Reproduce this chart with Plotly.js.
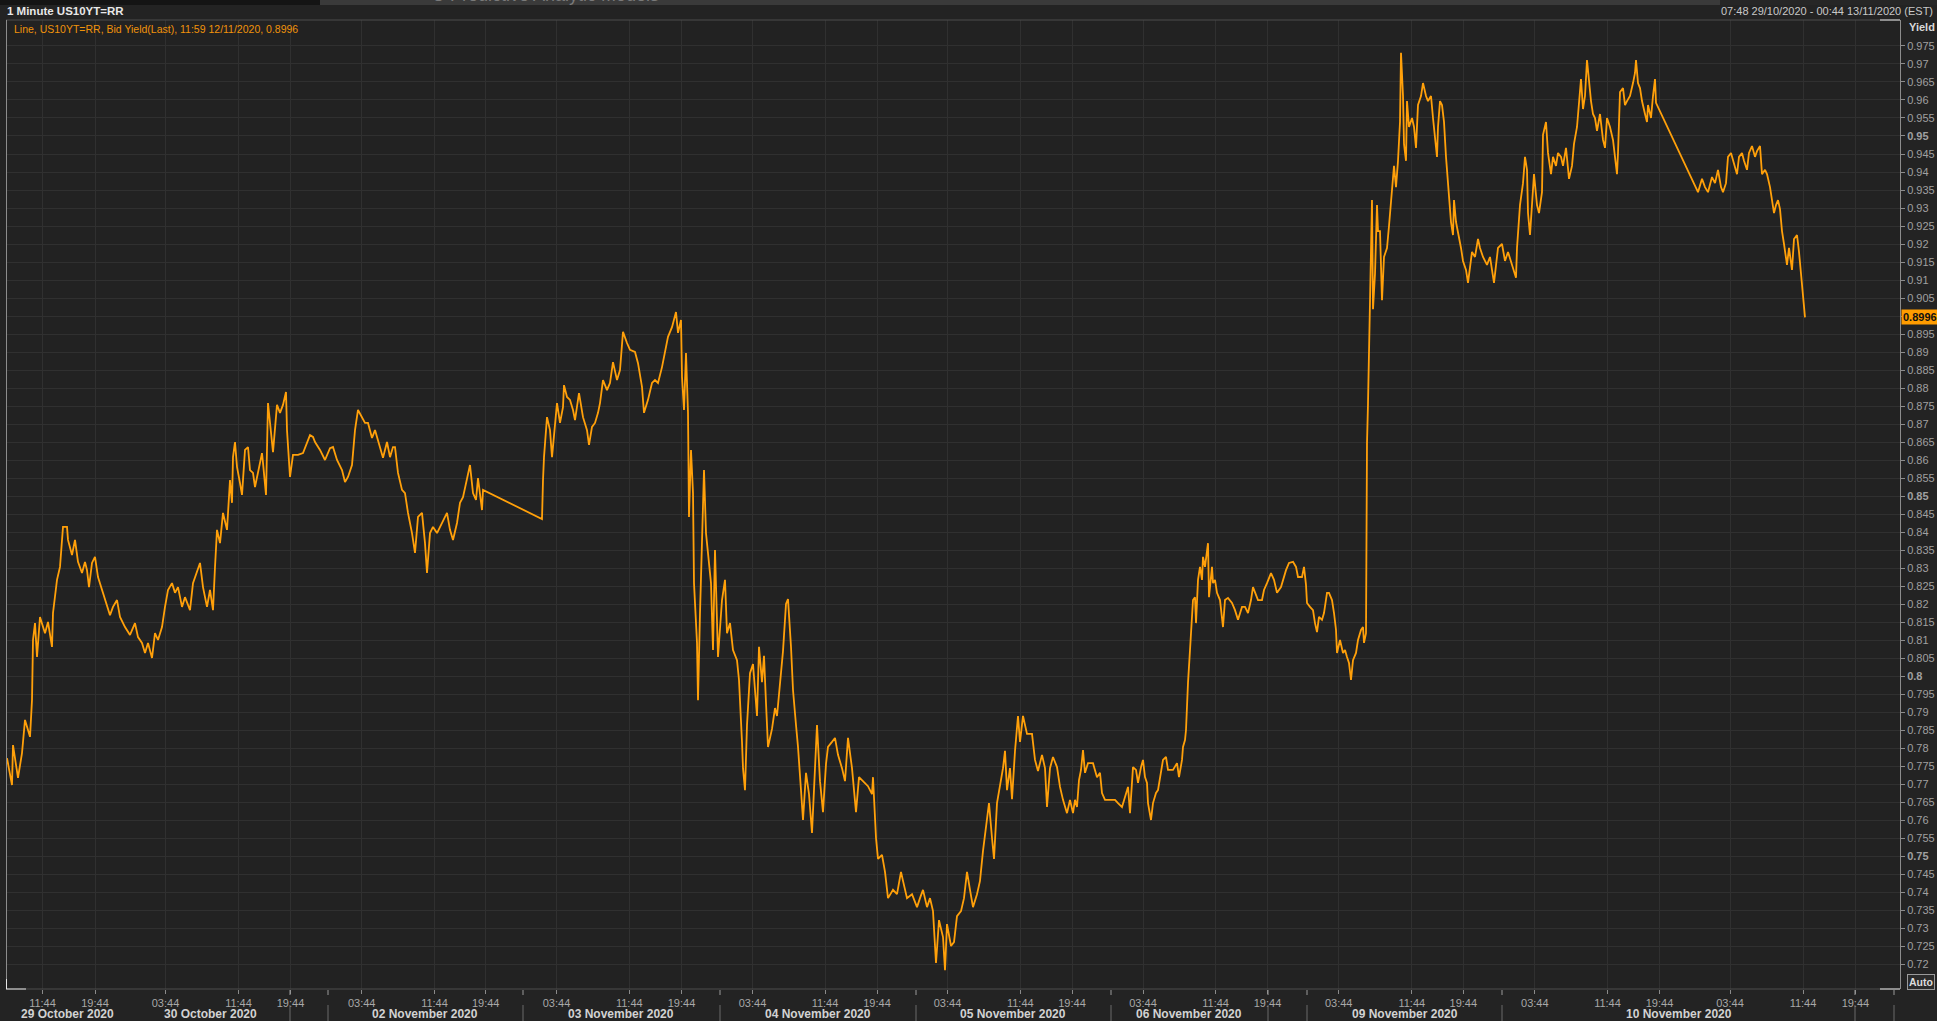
<!DOCTYPE html>
<html><head><meta charset="utf-8">
<script src="https://cdn.plot.ly/plotly-3.0.1.min.js"></script>
<style>html,body{margin:0;padding:0;background:#232323;overflow:hidden}#chart{width:1937px;height:1021px}</style>
</head><body><div id="chart"></div>
<script>
// ---- DATA (x = bar position on the compressed session axis, y = US10YT=RR bid yield) ----
const barIdx = [
7,12,13,18,22,25,30,32,33,35,37,40,45,48,52,53,57,60,63,67,
68,72,75,78,82,85,87,89,92,95,98,102,105,110,113,117,120,125,130,135,
138,142,145,148,152,155,158,162,165,168,172,175,178,182,185,190,193,197,200,203,
207,210,213,215,217,220,223,227,230,232,233,235,237,240,242,245,248,250,253,255,
258,262,263,266,268,270,273,277,280,283,286,287,290,293,298,303,307,310,313,315,
320,325,330,333,337,342,345,348,352,355,358,362,365,368,372,375,380,383,387,390,
393,395,398,402,405,408,412,415,418,422,425,427,430,433,437,442,447,450,453,457,
460,463,467,470,473,476,478,482,483,542,543,544,547,550,552,555,557,560,563,564,
567,570,573,575,579,583,587,589,592,595,598,600,603,607,610,613,617,620,623,627,
630,635,638,642,644,648,652,655,658,662,665,668,672,676,678,681,682,684,686,688,
689,691,693,694,697,698,700,702,704,706,708,711,713,715,718,722,725,727,730,733,
737,739,742,743,745,747,750,753,757,759,762,764,766,768,772,775,777,780,783,786,
788,791,793,796,798,801,803,806,809,812,815,817,820,823,826,828,832,835,838,842,
845,848,852,856,859,863,868,872,873,876,878,882,885,888,893,897,901,903,907,912,
917,920,923,927,930,933,936,939,943,945,947,951,954,957,961,964,967,970,973,977,
980,983,987,989,992,994,997,1000,1003,1005,1007,1010,1012,1015,1018,1020,1023,1027,1032,1035,
1038,1042,1045,1047,1050,1053,1057,1060,1063,1067,1070,1073,1075,1077,1079,1081,1083,1085,1088,1093,
1097,1100,1102,1105,1110,1115,1118,1122,1125,1128,1130,1133,1136,1138,1141,1143,1145,1147,1148,1151,
1153,1156,1158,1161,1163,1166,1168,1173,1177,1179,1182,1183,1185,1186,1187,1188,1190,1192,1193,1195,
1196,1198,1200,1202,1203,1205,1207,1208,1209,1212,1213,1215,1217,1220,1223,1225,1228,1232,1235,1238,
1242,1245,1248,1251,1253,1255,1258,1262,1264,1267,1271,1274,1277,1281,1283,1286,1289,1293,1296,1298,
1302,1304,1306,1307,1310,1313,1315,1317,1319,1322,1324,1327,1329,1332,1334,1336,1337,1340,1343,1345,
1347,1349,1351,1353,1356,1358,1361,1363,1364,1366,1366.5,1367,1368,1369,1371,1372,1373,1375,1377,1378,
1380,1382,1384,1387,1389,1392,1394,1396,1398,1400,1401,1403,1404,1406,1407,1409,1412,1414,1416,1418,
1421,1423,1426,1428,1431,1433,1435,1437,1438,1440,1442,1444,1446,1448,1451,1453,1454,1456,1458,1461,
1463,1466,1468,1472,1475,1478,1480,1483,1487,1490,1494,1498,1502,1505,1508,1512,1516,1517,1520,1523,
1525,1527,1528,1530,1532,1534,1537,1539,1542,1543,1546,1548,1551,1553,1556,1558,1561,1563,1566,1569,
1572,1574,1577,1579,1581,1583,1585,1587,1589,1591,1593,1595,1597,1600,1603,1605,1607,1610,1613,1615,
1617,1618,1620,1623,1625,1627,1630,1633,1635,1636,1638,1640,1642,1645,1647,1648,1651,1653,1655,1656,
1698,1702,1705,1708,1712,1715,1718,1721,1723,1726,1728,1731,1733,1737,1739,1742,1744,1747,1749,1752,
1755,1757,1760,1762,1765,1767,1770,1772,1774,1776,1778,1780,1782,1784,1787,1789,1792,1794,1797,1799,
1801,1803,1805
];
const bidYield = [
0.7772,0.7697,0.7808,0.7717,0.7786,0.7878,0.7831,0.7933,0.8100,0.8147,0.8053,0.8164,0.8119,0.8150,0.8081,0.8175,0.8267,0.8303,0.8414,0.8414,
0.8378,0.8336,0.8378,0.8317,0.8286,0.8317,0.8294,0.8247,0.8314,0.8331,0.8275,0.8239,0.8211,0.8169,0.8192,0.8211,0.8164,0.8136,0.8114,0.8147,
0.8108,0.8092,0.8064,0.8092,0.8050,0.8119,0.8100,0.8136,0.8192,0.8239,0.8258,0.8231,0.8247,0.8192,0.8219,0.8183,0.8258,0.8294,0.8314,0.8247,
0.8192,0.8239,0.8183,0.8303,0.8406,0.8369,0.8453,0.8406,0.8544,0.8481,0.8608,0.8650,0.8581,0.8536,0.8503,0.8628,0.8636,0.8572,0.8564,0.8525,
0.8564,0.8619,0.8592,0.8503,0.8758,0.8703,0.8622,0.8753,0.8731,0.8753,0.8789,0.8683,0.8553,0.8614,0.8614,0.8619,0.8650,0.8669,0.8664,0.8650,
0.8628,0.8600,0.8633,0.8636,0.8600,0.8572,0.8539,0.8553,0.8586,0.8683,0.8739,0.8719,0.8703,0.8703,0.8661,0.8683,0.8633,0.8606,0.8650,0.8608,
0.8636,0.8636,0.8564,0.8517,0.8508,0.8453,0.8397,0.8342,0.8442,0.8453,0.8369,0.8286,0.8397,0.8414,0.8397,0.8425,0.8453,0.8406,0.8378,0.8425,
0.8481,0.8497,0.8544,0.8586,0.8508,0.8489,0.8550,0.8461,0.8517,0.8436,0.8544,0.8608,0.8719,0.8683,0.8608,0.8692,0.8758,0.8703,0.8747,0.8808,
0.8775,0.8767,0.8739,0.8711,0.8786,0.8719,0.8683,0.8642,0.8692,0.8703,0.8731,0.8758,0.8822,0.8794,0.8814,0.8872,0.8822,0.8850,0.8956,0.8925,
0.8906,0.8900,0.8869,0.8803,0.8731,0.8767,0.8814,0.8822,0.8814,0.8858,0.8906,0.8942,0.8969,0.9011,0.8953,0.8989,0.8831,0.8739,0.8897,0.8731,
0.8442,0.8628,0.8508,0.8258,0.8092,0.7933,0.8175,0.8350,0.8572,0.8397,0.8342,0.8258,0.8072,0.8350,0.8053,0.8211,0.8267,0.8119,0.8147,0.8072,
0.8044,0.7989,0.7817,0.7744,0.7683,0.7864,0.8008,0.8033,0.7889,0.8081,0.7983,0.8056,0.7925,0.7803,0.7853,0.7911,0.7889,0.7983,0.8069,0.8200,
0.8214,0.8081,0.7961,0.7864,0.7803,0.7683,0.7600,0.7731,0.7672,0.7564,0.7767,0.7864,0.7708,0.7622,0.7756,0.7803,0.7817,0.7828,0.7781,0.7744,
0.7708,0.7828,0.7744,0.7622,0.7719,0.7708,0.7694,0.7672,0.7719,0.7550,0.7492,0.7503,0.7456,0.7383,0.7406,0.7394,0.7456,0.7431,0.7383,0.7394,
0.7358,0.7383,0.7406,0.7358,0.7383,0.7347,0.7203,0.7322,0.7275,0.7183,0.7311,0.7250,0.7261,0.7333,0.7347,0.7383,0.7456,0.7406,0.7358,0.7394,
0.7431,0.7514,0.7600,0.7647,0.7550,0.7492,0.7647,0.7694,0.7744,0.7792,0.7683,0.7744,0.7658,0.7792,0.7889,0.7817,0.7889,0.7839,0.7839,0.7767,
0.7736,0.7781,0.7744,0.7636,0.7744,0.7775,0.7747,0.7692,0.7656,0.7619,0.7656,0.7619,0.7656,0.7636,0.7711,0.7739,0.7794,0.7731,0.7758,0.7758,
0.7719,0.7731,0.7675,0.7656,0.7656,0.7656,0.7647,0.7636,0.7664,0.7692,0.7619,0.7747,0.7739,0.7703,0.7747,0.7767,0.7719,0.7703,0.7647,0.7600,
0.7647,0.7675,0.7683,0.7731,0.7767,0.7775,0.7739,0.7739,0.7758,0.7719,0.7767,0.7803,0.7822,0.7850,0.7953,0.7981,0.8072,0.8156,0.8211,0.8219,
0.8147,0.8267,0.8303,0.8267,0.8331,0.8303,0.8342,0.8369,0.8219,0.8303,0.8258,0.8267,0.8231,0.8211,0.8136,0.8211,0.8217,0.8203,0.8183,0.8156,
0.8192,0.8192,0.8175,0.8211,0.8247,0.8231,0.8211,0.8211,0.8239,0.8258,0.8286,0.8267,0.8231,0.8247,0.8267,0.8294,0.8314,0.8317,0.8303,0.8275,
0.8275,0.8303,0.8253,0.8203,0.8192,0.8183,0.8147,0.8122,0.8164,0.8156,0.8175,0.8231,0.8231,0.8211,0.8175,0.8128,0.8064,0.8100,0.8064,0.8072,
0.8053,0.8036,0.7989,0.8044,0.8064,0.8100,0.8128,0.8136,0.8092,0.8119,0.8386,0.8647,0.8756,0.8922,0.9142,0.9322,0.9019,0.9117,0.9308,0.9236,
0.9236,0.9044,0.9164,0.9189,0.9250,0.9344,0.9417,0.9358,0.9431,0.9539,0.9731,0.9611,0.9478,0.9431,0.9597,0.9525,0.9550,0.9525,0.9467,0.9586,
0.9611,0.9647,0.9611,0.9597,0.9611,0.9550,0.9503,0.9442,0.9525,0.9597,0.9586,0.9539,0.9442,0.9358,0.9261,0.9225,0.9322,0.9261,0.9236,0.9189,
0.9153,0.9128,0.9092,0.9178,0.9164,0.9214,0.9189,0.9164,0.9142,0.9164,0.9092,0.9189,0.9200,0.9153,0.9178,0.9142,0.9106,0.9189,0.9308,0.9369,
0.9442,0.9406,0.9286,0.9225,0.9308,0.9394,0.9308,0.9286,0.9344,0.9503,0.9539,0.9453,0.9394,0.9442,0.9417,0.9453,0.9442,0.9417,0.9467,0.9381,
0.9417,0.9478,0.9525,0.9586,0.9658,0.9575,0.9611,0.9711,0.9647,0.9597,0.9561,0.9550,0.9514,0.9561,0.9489,0.9467,0.9550,0.9525,0.9489,0.9431,
0.9394,0.9453,0.9622,0.9633,0.9586,0.9597,0.9611,0.9647,0.9675,0.9711,0.9647,0.9633,0.9597,0.9561,0.9539,0.9586,0.9550,0.9611,0.9658,0.9592,
0.9344,0.9381,0.9358,0.9344,0.9386,0.9369,0.9406,0.9358,0.9344,0.9369,0.9442,0.9453,0.9431,0.9394,0.9442,0.9453,0.9431,0.9406,0.9453,0.9472,
0.9442,0.9458,0.9472,0.9394,0.9406,0.9394,0.9358,0.9322,0.9286,0.9308,0.9322,0.9297,0.9236,0.9200,0.9142,0.9189,0.9128,0.9214,0.9225,0.9178,
0.9111,0.9056,0.8996
];
const lastValue = 0.8996;

const timeTickPos = [42.5,95,165.5,238.5,290.5,361.7,434.5,485.7,556.5,629.3,681.5,752.5,825,877,947.5,1020.3,1072,1143,1215.6,1267.5,1338.7,1411.8,1463.3,1534.8,1607.5,1659.5,1730,1803,1855.4];
const timeTickText = ["11:44","19:44","03:44","11:44","19:44","03:44","11:44","19:44","03:44","11:44","19:44","03:44","11:44","19:44","03:44","11:44","19:44","03:44","11:44","19:44","03:44","11:44","19:44","03:44","11:44","19:44","03:44","11:44","19:44"];
const dateLabelPos = [67.6,210,424.6,620.5,817.5,1012.6,1189.4,1404.6,1678.6];
const dateLabels = ["29 October 2020","30 October 2020","02 November 2020","03 November 2020","04 November 2020","05 November 2020","06 November 2020","09 November 2020","10 November 2020"];
const daySeparators = [290,328,523,720,916,1111,1268,1307,1502,1855,1894];
const yTickVals = [0.72,0.725,0.73,0.735,0.74,0.745,0.75,0.755,0.76,0.765,0.77,0.775,0.78,0.785,0.79,0.795,0.8,0.805,0.81,0.815,0.82,0.825,0.83,0.835,0.84,0.845,0.85,0.855,0.86,0.865,0.87,0.875,0.88,0.885,0.89,0.895,0.9,0.905,0.91,0.915,0.92,0.925,0.93,0.935,0.94,0.945,0.95,0.955,0.96,0.965,0.97,0.975];

// ---- LAYOUT HELPERS (decoration only) ----
const W = 1937, H = 1021, L = 6, R = 1900, T = 20, B = 989;
const px = x => (x - L) / (R - L);
const py = y => (B - y) / (B - T);
const FONT = '"Liberation Sans", "DejaVu Sans", Arial, sans-serif';

// tick text: bold at every 0.05; the label under the last-value marker is covered in the original
const yTickText = yTickVals.map(v => {
  const s = String(+v.toFixed(3));
  if (Math.abs(v - lastValue) < 0.0025) return '';
  return (Math.round(v * 1000) % 50 === 0) ? '<b>' + s + '</b>' : s;
});

const shapes = [];
const line = (x0, y0, x1, y1, color, w) => shapes.push({type:'line', xref:'paper', yref:'paper', x0:px(x0), y0:py(y0), x1:px(x1), y1:py(y1), line:{color:color, width:w||1}, layer:'above'});
const rect = (x0, y0, x1, y1, fill) => shapes.push({type:'rect', xref:'paper', yref:'paper', x0:px(x0), y0:py(y0), x1:px(x1), y1:py(y1), fillcolor:fill, line:{width:0}, layer:'below'});

// top application strip
rect(0, 0, 320, 5, '#141414');
rect(320, 0, 1720, 5, '#3a3a3a');
rect(1720, 0, W, 5, '#262626');
// frame
line(L, T, R, T, '#4d4d4d');
line(L, B, R, B, '#4d4d4d');
line(L + 0.5, T, L + 0.5, B, '#8c8c8c');
// corner brackets
line(L + 0.5, B - 10, L + 0.5, B, '#e6e6e6');
line(L, B, L + 20, B, '#e6e6e6');
line(R - 20, T, R, T, '#e6e6e6');
line(R - 20, B, R, B, '#e6e6e6');
// date separators below axis
daySeparators.forEach(x => {
  shapes.push({type:'line', xref:'x', yref:'paper', x0:x, x1:x, y0:py(B + 1), y1:py(B + 6), line:{color:'#9a9a9a', width:1}});
  shapes.push({type:'line', xref:'x', yref:'paper', x0:x, x1:x, y0:py(1005), y1:py(H), line:{color:'#6a6a6a', width:1}});
});

const annotations = [
  {xref:'paper', yref:'paper', x:px(5), y:py(11), xanchor:'left', yanchor:'middle', showarrow:false,
   text:'<b>1 Minute US10YT=RR</b>', font:{family:FONT, size:11.5, color:'#e8e8e8'}},
  {xref:'paper', yref:'paper', x:px(12), y:py(29), xanchor:'left', yanchor:'middle', showarrow:false,
   text:'Line, US10YT=RR, Bid Yield(Last), 11:59 12/11/2020, 0.8996', font:{family:FONT, size:10.5, color:'#f0930a'}},
  {xref:'paper', yref:'paper', x:px(1935), y:py(11), xanchor:'right', yanchor:'middle', showarrow:false,
   text:'07:48 29/10/2020 - 00:44 13/11/2020 (EST)', font:{family:FONT, size:11, color:'#c8c8c8'}},
  {xref:'paper', yref:'paper', x:px(430), y:py(7), xanchor:'left', yanchor:'bottom', showarrow:false,
   text:'U Predictive Analytic Models', font:{family:FONT, size:18, color:'#7a7a7a'}},
  {xref:'paper', yref:'paper', x:px(1907), y:py(27), xanchor:'left', yanchor:'middle', showarrow:false,
   text:'<b>Yield</b>', font:{family:FONT, size:11, color:'#d8d8d8'}},
  {xref:'paper', yref:'paper', x:px(1907), y:py(982), xanchor:'left', yanchor:'middle', showarrow:false,
   text:'<b>Auto</b>', font:{family:FONT, size:10.5, color:'#dcdcdc'}, bgcolor:'#2b2b2b', bordercolor:'#9a9a9a', borderwidth:1, borderpad:1},
  {xref:'paper', yref:'y', x:px(1901), y:lastValue, xanchor:'left', yanchor:'middle', showarrow:false,
   text:'<b>' + lastValue.toFixed(4) + '</b>', font:{family:FONT, size:11, color:'#111111'}, bgcolor:'#ff9c00', borderpad:1}
];
dateLabels.forEach((t, i) => annotations.push({
  xref:'x', yref:'paper', x:dateLabelPos[i], y:py(1014), xanchor:'center', yanchor:'middle', showarrow:false,
  text:'<b>' + t + '</b>', font:{family:FONT, size:12, color:'#d2d2d2'}
}));

const trace = {
  x: barIdx, y: bidYield, type:'scatter', mode:'lines',
  line:{color:'#ffa00a', width:1.8}, hoverinfo:'skip', showlegend:false
};

const layout = {
  width:W, height:H,
  margin:{l:L, r:W - R, t:T, b:H - B, pad:0},
  paper_bgcolor:'#232323', plot_bgcolor:'#222222',
  font:{family:FONT, color:'#a8a8a8'},
  showlegend:false,
  xaxis:{range:[L, R], tickmode:'array', tickvals:timeTickPos, ticktext:timeTickText,
    showgrid:true, gridcolor:'#303030', gridwidth:1, zeroline:false, showline:false,
    ticks:'outside', ticklen:4, tickcolor:'#8a8a8a', tickfont:{family:FONT, size:11, color:'#a8a8a8'}, fixedrange:true},
  yaxis:{side:'right', range:[0.71306, 0.98222], tickmode:'array', tickvals:yTickVals, ticktext:yTickText,
    showgrid:true, gridcolor:'#303030', gridwidth:1, zeroline:false,
    showline:true, linecolor:'#8c8c8c', linewidth:1,
    ticks:'outside', ticklen:4, tickcolor:'#8c8c8c', tickfont:{family:FONT, size:11, color:'#a0a0a0'}, fixedrange:true},
  shapes:shapes, annotations:annotations
};

Plotly.newPlot('chart', [trace], layout, {staticPlot:true, displayModeBar:false});
</script>
</body></html>
